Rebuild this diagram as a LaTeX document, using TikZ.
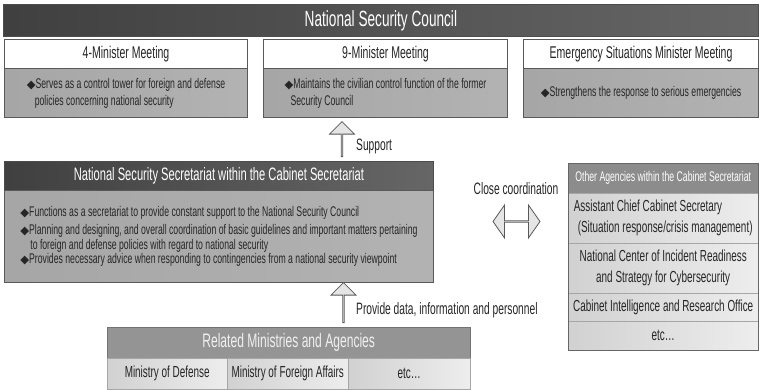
\documentclass[tikz,border=0pt]{standalone}
\usepackage{fontspec}
\setmainfont[FakeStretch=0.62]{Liberation Sans}
\newfontfamily\dmdfont{DejaVu Sans}
\usetikzlibrary{shapes.arrows}
\newcommand{\dmd}{{\dmdfont\fontsize{11.5}{11.5}\selectfont\char"25C6}}

\tikzset{
  darkbar/.style={anchor=north west, draw=black!70, line width=0.8pt, inner sep=0, text=white, left color=black!75, right color=black!60},
  mtghead/.style={anchor=north west, draw=black!65, line width=1pt, fill=white, inner sep=0, minimum height=29, font=\fontsize{17}{17}\selectfont, text=black!85},
  mtgbody/.style={anchor=north west, draw=black!65, line width=1pt, inner sep=0, align=left, left color=black!35, middle color=black!6, right color=black!30, text=black!85},
  rowbox/.style={anchor=north west, draw=black!35, inner sep=0, left color=black!18, right color=black!7, text=black!85, font=\fontsize{16}{21}\selectfont},
  blockarrow/.style={single arrow, draw=black!65, line width=0.8pt, fill=black!10, inner sep=0, single arrow head extend=6, shape border rotate=90},
  lbl/.style={anchor=west, inner sep=0, font=\fontsize{16.5}{17}\selectfont, text=black!85}
}

\begin{document}
\begin{tikzpicture}[x=1pt,y=-1pt]
\useasboundingbox (0,0) rectangle (761,389);

\node[darkbar, minimum width=755, minimum height=32, font=\fontsize{22}{22}\selectfont] (nsc) at (3,4) {National Security Council};

\node[mtghead, minimum width=243] (meet4) at (4,39) {4-Minister Meeting};
\node[mtgbody, minimum width=243, minimum height=49, font=\fontsize{14}{17}\selectfont] (meet4txt) at (4,68) {\dmd Serves as a control tower for foreign and defense\\\hspace*{8pt}policies concerning national security};

\node[mtghead, minimum width=244] (meet9) at (263,39) {9-Minister Meeting};
\node[mtgbody, minimum width=244, minimum height=49, font=\fontsize{14}{17}\selectfont] (meet9txt) at (263,68) {\dmd Maintains the civilian control function of the former\\\hspace*{6pt}Security Council};

\node[mtghead, minimum width=235] (meetE) at (523,39) {Emergency Situations Minister Meeting};
\node[mtgbody, minimum width=235, minimum height=49, font=\fontsize{14}{17}\selectfont] (meetEtxt) at (523,68) {\dmd Strengthens the response to serious emergencies};

\node[blockarrow, minimum height=35, minimum width=25] (supp) at (342,139.5) {};
\node[lbl] (supplbl) at (356,146) {Support};

\node[darkbar, minimum width=429, minimum height=29, font=\fontsize{18}{18}\selectfont] (nss) at (4,161) {National Security Secretariat within the Cabinet Secretariat};
\node[mtgbody, minimum width=429, minimum height=92, font=\fontsize{14}{14.5}\selectfont] (nsstxt) at (4,190) {\dmd Functions as a secretariat to provide constant support to the National Security Council\\[4pt]
\dmd Planning and designing, and overall coordination of basic guidelines and important matters pertaining\\
\hspace*{10pt}to foreign and defense policies with regard to national security\\
\dmd Provides necessary advice when responding to contingencies from a national security viewpoint};

\node[lbl, anchor=center] (coordlbl) at (516,189) {Close coordination};
\node[double arrow, draw=black!65, line width=0.8pt, fill=black!10, inner sep=0, double arrow head extend=9, double arrow tip angle=110, minimum height=47, minimum width=33] (coord) at (516.5,221.5) {};

\node[anchor=north west, draw=black!60, fill=black!45, inner sep=0, minimum width=190, minimum height=30, text=white, font=\fontsize{14}{14}\selectfont] (oth) at (568,163) {Other Agencies within the Cabinet Secretariat};
\node[rowbox, minimum width=190, minimum height=50, align=left] (acs) at (568,193) {Assistant Chief Cabinet Secretary\\\hspace*{4pt}(Situation response/crisis management)};
\node[rowbox, minimum width=190, minimum height=50, align=center] (nisc) at (568,243) {National Center of Incident Readiness\\and Strategy for Cybersecurity};
\node[rowbox, minimum width=190, minimum height=28] (ciro) at (568,293) {Cabinet Intelligence and Research Office};
\node[rowbox, minimum width=190, minimum height=29] (othetc) at (568,321) {etc\dots};
\draw[black!60, line width=1pt] (oth.north west) rectangle (othetc.south east);

\node[blockarrow, minimum height=40, minimum width=25] (prov) at (343.5,303) {};
\node[lbl] (provlbl) at (356,310) {Provide data, information and personnel};

\node[anchor=north west, draw=black!55, fill=black!42, inner sep=0, text=black!6, minimum width=363, minimum height=31, font=\fontsize{19.5}{20}\selectfont] (rel) at (107,327) {Related Ministries and Agencies};
\node[rowbox, minimum width=120, minimum height=31] (mod) at (107,358) {Ministry of Defense};
\node[rowbox, minimum width=121, minimum height=31] (mofa) at (227,358) {Ministry of Foreign Affairs};
\node[rowbox, minimum width=122, minimum height=31] (reletc) at (348,358) {etc\dots};
\end{tikzpicture}
\end{document}
